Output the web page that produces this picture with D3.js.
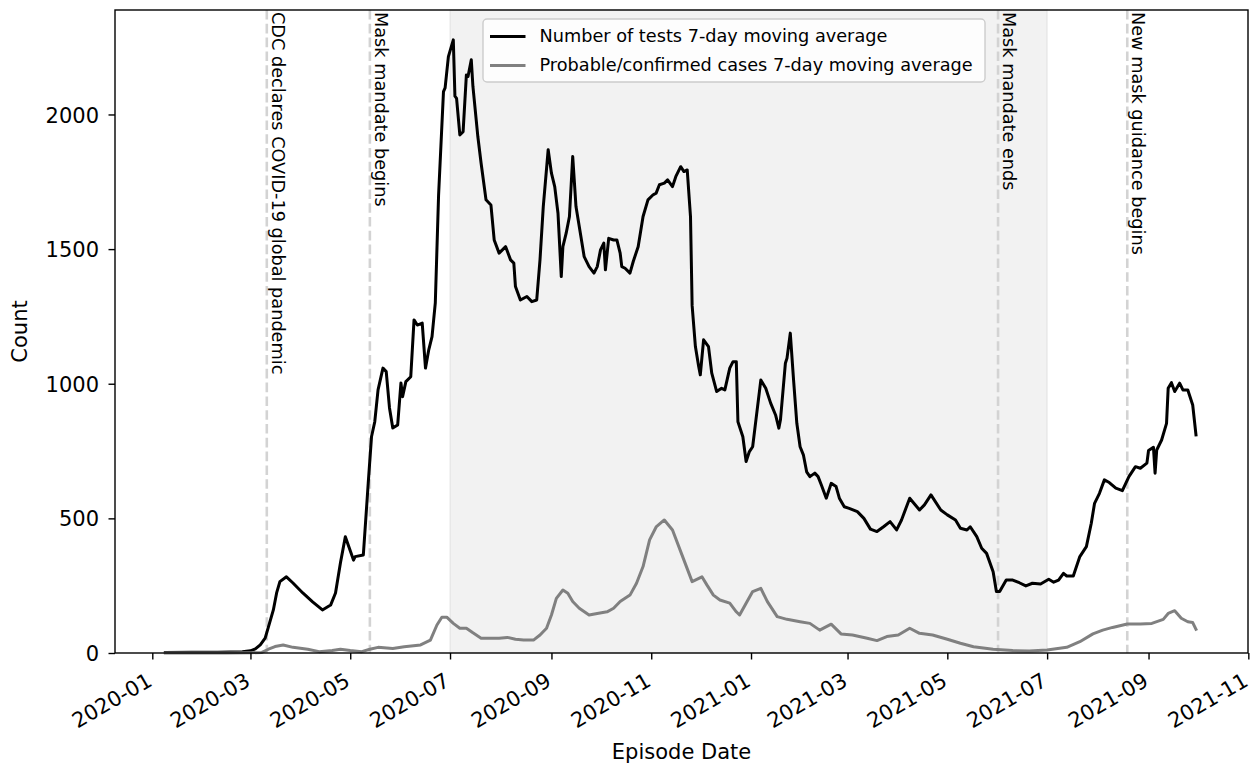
<!DOCTYPE html>
<html><head><meta charset="utf-8">
<script src="https://cdn.jsdelivr.net/npm/d3@7"></script>
<style>body{margin:0;background:#fff} text{font-family:"DejaVu Sans",sans-serif}</style>
</head><body><svg id="chart" width="1251" height="766"></svg>
<script>
const testDates = ["2020-01-09","2020-01-25","2020-02-10","2020-02-25","2020-03-01","2020-03-04","2020-03-07","2020-03-10","2020-03-12","2020-03-15","2020-03-17","2020-03-19","2020-03-23","2020-03-27","2020-04-02","2020-04-08","2020-04-14","2020-04-19","2020-04-22","2020-04-25","2020-04-28","2020-05-03","2020-05-04","2020-05-09","2020-05-12","2020-05-14","2020-05-16","2020-05-18","2020-05-21","2020-05-23","2020-05-25","2020-05-27","2020-05-30","2020-06-01","2020-06-02","2020-06-04","2020-06-07","2020-06-09","2020-06-11","2020-06-14","2020-06-16","2020-06-18","2020-06-20","2020-06-22","2020-06-24","2020-06-27","2020-06-28","2020-06-30","2020-07-03","2020-07-04","2020-07-05","2020-07-07","2020-07-09","2020-07-11","2020-07-12","2020-07-14","2020-07-15","2020-07-18","2020-07-20","2020-07-23","2020-07-26","2020-07-28","2020-07-31","2020-08-04","2020-08-07","2020-08-09","2020-08-10","2020-08-13","2020-08-17","2020-08-20","2020-08-23","2020-08-25","2020-08-27","2020-08-30","2020-09-01","2020-09-03","2020-09-05","2020-09-07","2020-09-08","2020-09-10","2020-09-12","2020-09-14","2020-09-16","2020-09-19","2020-09-21","2020-09-24","2020-09-27","2020-09-29","2020-10-01","2020-10-03","2020-10-04","2020-10-06","2020-10-09","2020-10-11","2020-10-13","2020-10-14","2020-10-16","2020-10-19","2020-10-21","2020-10-24","2020-10-27","2020-10-30","2020-11-02","2020-11-04","2020-11-06","2020-11-09","2020-11-11","2020-11-14","2020-11-16","2020-11-19","2020-11-21","2020-11-23","2020-11-25","2020-11-26","2020-11-28","2020-11-30","2020-12-01","2020-12-03","2020-12-06","2020-12-08","2020-12-11","2020-12-14","2020-12-16","2020-12-19","2020-12-21","2020-12-23","2020-12-24","2020-12-27","2020-12-29","2020-12-31","2021-01-02","2021-01-04","2021-01-07","2021-01-10","2021-01-13","2021-01-16","2021-01-18","2021-01-19","2021-01-22","2021-01-23","2021-01-25","2021-01-27","2021-01-29","2021-01-31","2021-02-02","2021-02-04","2021-02-06","2021-02-09","2021-02-11","2021-02-13","2021-02-16","2021-02-19","2021-02-22","2021-02-24","2021-02-27","2021-03-02","2021-03-07","2021-03-11","2021-03-15","2021-03-19","2021-03-23","2021-03-27","2021-03-31","2021-04-03","2021-04-08","2021-04-14","2021-04-17","2021-04-21","2021-04-27","2021-05-01","2021-05-06","2021-05-09","2021-05-13","2021-05-15","2021-05-19","2021-05-22","2021-05-25","2021-05-29","2021-05-31","2021-06-02","2021-06-06","2021-06-10","2021-06-14","2021-06-18","2021-06-22","2021-06-27","2021-07-02","2021-07-05","2021-07-08","2021-07-11","2021-07-13","2021-07-17","2021-07-21","2021-07-25","2021-07-28","2021-07-30","2021-08-02","2021-08-05","2021-08-08","2021-08-12","2021-08-16","2021-08-20","2021-08-24","2021-08-27","2021-08-31","2021-09-01","2021-09-04","2021-09-05","2021-09-06","2021-09-09","2021-09-12","2021-09-13","2021-09-15","2021-09-17","2021-09-20","2021-09-22","2021-09-25","2021-09-26","2021-09-28","2021-09-30"];
const testValues = [2,3,3,5,8,15,30,55,97,160,223,265,283,260,223,190,160,178,223,334,432,345,358,364,631,803,859,977,1058,1045,910,836,847,1003,952,1008,1026,1237,1218,1225,1058,1126,1175,1300,1700,2085,2099,2215,2277,2068,2060,1924,1936,2147,2141,2203,2104,1918,1819,1683,1664,1534,1485,1509,1460,1448,1361,1311,1324,1305,1311,1460,1658,1869,1782,1732,1633,1398,1509,1559,1621,1844,1658,1547,1472,1435,1411,1435,1497,1522,1423,1540,1534,1534,1485,1435,1429,1411,1454,1509,1621,1683,1701,1708,1739,1745,1757,1732,1769,1806,1788,1794,1621,1290,1138,1064,1033,1163,1138,1039,971,983,977,1058,1082,1082,859,803,711,748,766,866,1014,983,928,884,835,866,1076,1095,1188,1014,853,766,736,673,655,668,655,624,575,630,618,575,543,537,525,500,460,451,469,488,457,494,575,531,550,587,531,513,494,463,457,469,432,389,370,302,228,228,271,271,261,249,259,256,274,263,271,296,286,286,358,395,482,556,593,643,633,612,603,655,692,686,705,752,764,668,754,791,853,983,1004,971,1002,977,977,958,921,810];
const caseDates = ["2020-01-09","2020-02-15","2020-03-01","2020-03-08","2020-03-12","2020-03-16","2020-03-21","2020-03-27","2020-04-05","2020-04-12","2020-04-20","2020-04-25","2020-05-01","2020-05-08","2020-05-13","2020-05-18","2020-05-27","2020-06-03","2020-06-13","2020-06-19","2020-06-23","2020-06-26","2020-06-29","2020-07-03","2020-07-07","2020-07-11","2020-07-15","2020-07-20","2020-07-25","2020-07-31","2020-08-05","2020-08-10","2020-08-15","2020-08-21","2020-08-25","2020-08-29","2020-09-01","2020-09-04","2020-09-08","2020-09-11","2020-09-14","2020-09-18","2020-09-24","2020-09-29","2020-10-05","2020-10-09","2020-10-13","2020-10-19","2020-10-23","2020-10-27","2020-10-31","2020-11-04","2020-11-09","2020-11-14","2020-11-21","2020-11-26","2020-12-02","2020-12-05","2020-12-09","2020-12-13","2020-12-19","2020-12-23","2020-12-25","2020-12-29","2021-01-02","2021-01-07","2021-01-11","2021-01-17","2021-01-23","2021-01-31","2021-02-06","2021-02-12","2021-02-19","2021-02-25","2021-03-04","2021-03-13","2021-03-19","2021-03-25","2021-04-01","2021-04-08","2021-04-14","2021-04-22","2021-05-01","2021-05-09","2021-05-17","2021-05-29","2021-06-10","2021-06-20","2021-07-01","2021-07-13","2021-07-21","2021-07-29","2021-08-04","2021-08-10","2021-08-19","2021-08-27","2021-09-03","2021-09-10","2021-09-13","2021-09-17","2021-09-21","2021-09-25","2021-09-28","2021-09-30"];
const caseValues = [0,0,1,2,14,24,30,21,14,5,9,14,9,5,14,21,17,23,30,48,104,133,133,110,92,92,75,55,55,55,58,51,48,48,67,92,141,203,234,222,191,166,141,147,153,166,191,215,259,321,420,468,494,457,345,265,283,253,215,197,185,153,141,185,228,240,191,135,125,116,110,85,107,71,67,55,46,61,67,92,73,67,51,36,23,14,9,7,11,21,42,71,85,95,108,108,110,125,147,157,129,116,113,88];
const seriesNames = ["Number of tests 7-day moving average","Probable/confirmed cases 7-day moving average"];
const eventDates = ["2020-03-11","2020-05-13","2021-06-01","2021-08-19"];
const eventLabels = ["CDC declares COVID-19 global pandemic","Mask mandate begins","Mask mandate ends","New mask guidance begins"];
const shadeRange = ["2020-07-01","2021-07-01"];
const xTickDates = ["2020-01-01","2020-03-01","2020-05-01","2020-07-01","2020-09-01","2020-11-01","2021-01-01","2021-03-01","2021-05-01","2021-07-01","2021-09-01","2021-11-01"];
const yTicks = [0,500,1000,1500,2000];
const xDomain = ["2019-12-09T04:48:00Z","2021-10-31T19:12:00Z"];
const yDomain = [0,2388];

const parse = d3.utcParse("%Y-%m-%d");
const W=1251,H=766,m={l:115,r:3,t:10,b:113};
const x = d3.scaleUtc().domain(xDomain.map(d=>new Date(d))).range([m.l,W-m.r]);
const y = d3.scaleLinear().domain(yDomain).range([H-m.b,m.t]);
const svg = d3.select("#chart");

// shaded period
const s0 = x(parse(shadeRange[0])), s1 = x(parse(shadeRange[1]));
svg.append("rect").attr("x",s0).attr("y",m.t).attr("width",s1-s0).attr("height",H-m.b-m.t)
  .attr("fill","#808080").attr("fill-opacity",0.1).attr("stroke","#808080").attr("stroke-opacity",0.1).attr("stroke-width",1.7);

// event lines
eventDates.forEach((d,i)=>{
  const xx = x(parse(d));
  svg.append("line").attr("x1",xx).attr("x2",xx).attr("y1",m.t).attr("y2",H-m.b)
    .attr("stroke","#d3d3d3").attr("stroke-width",2.6).attr("stroke-dasharray","9.6,4.2");
  svg.append("text").attr("transform",`translate(${xx+5},${m.t+2}) rotate(90)`)
    .attr("font-size",17.7).attr("fill","#000").text(eventLabels[i]);
});

// series
const line = d3.line().x(d=>x(d[0])).y(d=>y(d[1]));
const tests = testDates.map((d,i)=>[parse(d),testValues[i]]);
const cases = caseDates.map((d,i)=>[parse(d),caseValues[i]]);
svg.append("path").datum(tests).attr("d",line).attr("fill","none").attr("stroke","#000").attr("stroke-width",3).attr("stroke-linejoin","round").attr("stroke-linecap","square");
svg.append("path").datum(cases).attr("d",line).attr("fill","none").attr("stroke","#808080").attr("stroke-width",3).attr("stroke-linejoin","round").attr("stroke-linecap","square");

// axes
const gx = svg.append("g").attr("transform",`translate(0,${H-m.b})`)
  .call(d3.axisBottom(x).tickValues(xTickDates.map(parse)).tickFormat(d3.utcFormat("%Y-%m")).tickSize(6.5).tickSizeOuter(0));
gx.select(".domain").remove();
gx.selectAll(".tick line").attr("stroke","#000").attr("stroke-width",1.4);
gx.selectAll(".tick text").attr("font-size",21).attr("font-family","DejaVu Sans").attr("fill","#000")
  .attr("text-anchor","end").attr("x",null).attr("y",null).attr("dy","0.73em")
  .attr("transform","translate(-7,18.5) rotate(-30)");

const gy = svg.append("g").attr("transform",`translate(${m.l},0)`)
  .call(d3.axisLeft(y).tickValues(yTicks).tickFormat(d3.format("d")).tickSize(6.5).tickPadding(9.5).tickSizeOuter(0));
gy.select(".domain").remove();
gy.selectAll(".tick line").attr("stroke","#000").attr("stroke-width",1.4);
gy.selectAll(".tick text").attr("font-size",21).attr("font-family","DejaVu Sans").attr("fill","#000").attr("dy","0.36em");

// frame
svg.append("rect").attr("x",m.l).attr("y",m.t).attr("width",W-m.r-m.l).attr("height",H-m.b-m.t)
  .attr("fill","none").attr("stroke","#000").attr("stroke-width",1.4);

// axis labels
svg.append("text").attr("x",(m.l+W-m.r)/2).attr("y",759).attr("text-anchor","middle").attr("font-size",21).text("Episode Date");
svg.append("text").attr("transform",`translate(27,${(m.t+H-m.b)/2}) rotate(-90)`).attr("text-anchor","middle").attr("font-size",21).text("Count");

// legend
const lg = svg.append("g");
lg.append("rect").attr("x",483).attr("y",19).attr("width",502).attr("height",63).attr("rx",4)
  .attr("fill","#fff").attr("fill-opacity",0.8).attr("stroke","#cccccc").attr("stroke-width",1.4);
const colors = ["#000","#808080"];
seriesNames.forEach((n,i)=>{
  const cy = 36.5 + i*29;
  lg.append("line").attr("x1",490).attr("x2",525.5).attr("y1",cy).attr("y2",cy).attr("stroke",colors[i]).attr("stroke-width",3);
  lg.append("text").attr("x",539.5).attr("y",cy).attr("dy","0.32em").attr("font-size",17.7).attr("fill","#000").text(n);
});
</script></body></html>
